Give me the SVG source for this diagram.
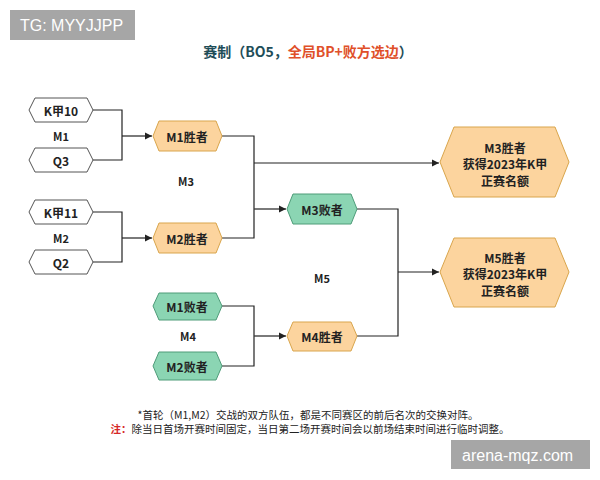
<svg xmlns="http://www.w3.org/2000/svg" width="600" height="480" viewBox="0 0 600 480">
<defs>
<marker id="arr" markerWidth="8" markerHeight="8" refX="7" refY="4" orient="auto" markerUnits="userSpaceOnUse">
<path d="M0,0.5 L7,4 L0,7.5 Z" fill="#222"/>
</marker>
<style>
text{font-family:"Noto Sans CJK SC","Liberation Sans",sans-serif;}
.nt{font-size:12px;font-weight:bold;fill:#222;text-anchor:middle;dominant-baseline:central;}
.lb{font-size:11px;font-weight:bold;fill:#222;text-anchor:middle;dominant-baseline:central;}
.w{fill:#fff;stroke:#555;stroke-width:1;}
.o{fill:#fcd49e;stroke:#d9a54c;stroke-width:1;}
.g{fill:#8bd5b3;stroke:#4e9c79;stroke-width:1;}
.c{fill:none;stroke:#222;stroke-width:1.2;}
.ft{font-size:10.5px;fill:#222;text-anchor:middle;}
.wm{font-family:"Liberation Sans",sans-serif;font-size:16px;fill:#fff;dominant-baseline:central;}
</style>
</defs>
<rect width="600" height="480" fill="#fff"/>

<g id="wm1"><rect x="10" y="10" width="125" height="30" fill="#a6a6a6"/><text class="wm" x="20" y="25">TG: MYYJJPP</text></g>

<g id="title"><text x="308" y="57" text-anchor="middle" font-size="14" font-weight="bold" fill="#1e4d58">赛制（BO5，<tspan fill="#e0502a">全局BP+败方选边</tspan>）</text></g>

<g id="connectors">
<path class="c" d="M93,110 H122 V160 H93"/>
<path class="c" d="M122,136 H152" marker-end="url(#arr)"/>
<path class="c" d="M93,212 H122 V262 H93"/>
<path class="c" d="M122,238 H152" marker-end="url(#arr)"/>
<path class="c" d="M222,136 H254 V238 H222"/>
<path class="c" d="M254,163 H439" marker-end="url(#arr)"/>
<path class="c" d="M254,209 H286" marker-end="url(#arr)"/>
<path class="c" d="M222,306 H254 V366 H222"/>
<path class="c" d="M254,336 H286" marker-end="url(#arr)"/>
<path class="c" d="M357,209 H398 V336 H357"/>
<path class="c" d="M398,272 H439" marker-end="url(#arr)"/>
</g>

<g id="labels">
<text class="lb" x="61" y="136">M1</text>
<text class="lb" x="61" y="238">M2</text>
<text class="lb" x="186" y="181">M3</text>
<text class="lb" x="188" y="336">M4</text>
<text class="lb" x="322" y="278">M5</text>
</g>

<g id="k10"><polygon class="w" points="29,110 35,98 87,98 93,110 87,122 35,122"/><text class="nt" x="61" y="110">K甲10</text></g>
<g id="q3"><polygon class="w" points="29,160 35,148 87,148 93,160 87,172 35,172"/><text class="nt" x="61" y="160">Q3</text></g>
<g id="k11"><polygon class="w" points="29,212 35,200 87,200 93,212 87,224 35,224"/><text class="nt" x="61" y="212">K甲11</text></g>
<g id="q2"><polygon class="w" points="29,262 35,250 87,250 93,262 87,274 35,274"/><text class="nt" x="61" y="262">Q2</text></g>

<g id="m1w"><polygon class="o" points="153,136 159,121 216,121 222,136 216,151 159,151"/><text class="nt" x="187" y="136">M1胜者</text></g>
<g id="m2w"><polygon class="o" points="153,238 159,223 216,223 222,238 216,253 159,253"/><text class="nt" x="187" y="238">M2胜者</text></g>

<g id="m3l"><polygon class="g" points="287,209 293,194 351,194 357,209 351,224 293,224"/><text class="nt" x="322" y="209">M3败者</text></g>

<g id="m1l"><polygon class="g" points="153,306 159,293 216,293 222,306 216,320 159,320"/><text class="nt" x="187" y="306">M1败者</text></g>
<g id="m2l"><polygon class="g" points="153,366 159,352 216,352 222,366 216,380 159,380"/><text class="nt" x="187" y="366">M2败者</text></g>

<g id="m4w"><polygon class="o" points="287,336 293,322 351,322 357,336 351,351 293,351"/><text class="nt" x="322" y="336">M4胜者</text></g>

<g id="m3w"><polygon class="o" points="440,162 454,127 555,127 569,162 555,197 454,197"/>
<text class="nt" x="505" y="147">M3胜者</text><text class="nt" x="505" y="163">获得2023年K甲</text><text class="nt" x="505" y="180">正赛名额</text></g>

<g id="m5w"><polygon class="o" points="440,272 454,238 555,238 569,272 555,307 454,307"/>
<text class="nt" x="505" y="257">M5胜者</text><text class="nt" x="505" y="273">获得2023年K甲</text><text class="nt" x="505" y="290">正赛名额</text></g>

<g id="foot">
<text class="ft" x="308" y="419">*首轮（M1,M2）交战的双方队伍，都是不同赛区的前后名次的交换对阵。</text>
<text class="ft" x="310" y="433"><tspan fill="#d62828" font-weight="bold">注：</tspan>除当日首场开赛时间固定，当日第二场开赛时间会以前场结束时间进行临时调整。</text>
</g>

<g id="wm2"><rect x="451" y="440" width="139" height="29" fill="#a6a6a6"/><text class="wm" x="462" y="455">arena-mqz.com</text></g>
</svg>
